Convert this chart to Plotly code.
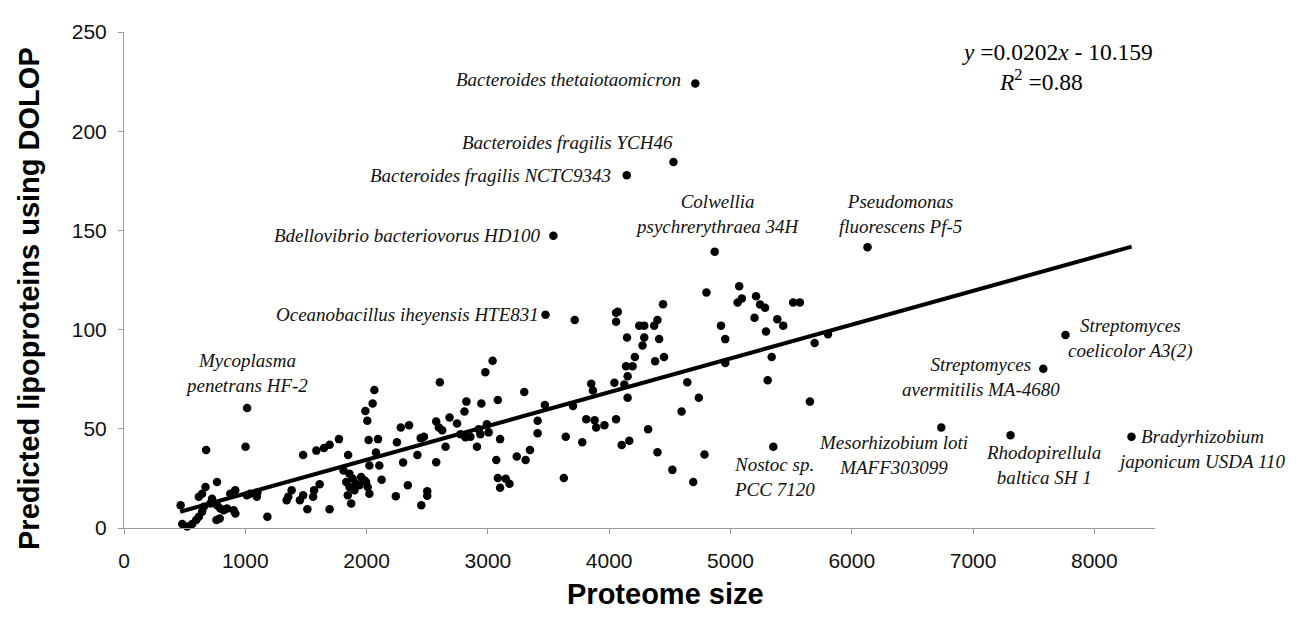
import plotly.graph_objects as go

# ---- data ----
proteome_size = [
    467, 480, 521, 562, 595, 617, 644, 658, 617, 644, 672, 712, 726, 767, 762, 789, 767, 794, 822, 849,
    876, 917, 904, 918, 1013, 1040, 1095, 1100, 1182, 677, 1002, 1341, 1354, 1382, 1450, 1477, 1559, 1567,
    1613, 1512, 1695, 1477, 1586, 1649, 1695, 1772, 1848, 1810, 1859, 1886, 1832, 1914, 1955, 1982, 2009,
    1859, 1900, 1845, 1941, 1996, 1873, 2023, 2124, 2023, 2105, 2077, 2017, 2094, 2006, 1990, 2050, 2064,
    2250, 2282, 2350, 2301, 2241, 2340, 2446, 2473, 2419, 2500, 2500, 2451,
    2574, 2574, 2596, 2623, 2604, 2651, 2684, 2746, 2807, 2823, 2774, 2815, 2856, 2910, 2924, 2938, 2946,
    2992, 3006, 2979, 3039, 3082, 3101, 3069, 3082, 3147, 3178, 3101, 3300, 3238, 3311, 3347, 3410, 3410,
    3470, 3626, 3642, 3702, 3778, 3811, 3880, 3893, 3961, 4057, 3852, 3866, 4043, 4125, 4152, 4152, 4103,
    4166, 4321, 4398, 4139, 4193, 4212, 4452, 4379, 4147, 4289, 4275, 4412, 3716, 4057, 4071, 4057, 4444,
    4248, 4289, 4371, 4398, 4644, 4739, 4597, 4802, 5072, 5094, 5059, 5211, 5244, 5285, 5198, 5386, 5435,
    5293, 4922, 4957, 4957, 5340, 5307, 5517, 5572, 5804, 5694, 5655, 4521, 4693, 4786,
]
lipoproteins = [
    11.5, 2, 0.7, 2, 4, 5.7, 8.2, 10.7, 15.7, 17.3, 20.7, 12.3, 14.8, 23.2, 4, 4.8, 11.5, 9.8, 9, 9.8,
    17.3, 19, 9, 7.3, 16.5, 17.3, 15.7, 18, 5.7, 39.3, 41, 14, 15.7, 19, 14, 16.5, 15.7, 19,
    22, 9.5, 9.5, 36.8, 39, 40.3, 42, 44.8, 36.8, 29, 27.3, 24.8, 23.2, 22.3, 25.7, 24, 20.7,
    20.7, 19, 16.5, 21.5, 23.2, 12.3, 17.3, 24.3, 31.5, 31.5, 38, 44.3, 44.8, 54, 59, 62.8, 69.5,
    43.2, 50.7, 51.8, 33, 16, 21.5, 45.3, 46, 36.8, 18.5, 16.2, 11.5,
    33.2, 53.7, 50.7, 49.3, 73.5, 41, 55.7, 52.7, 58.7, 63.7, 47.3, 45.7, 46, 41, 49.8, 47.3, 62.7,
    52.3, 48.2, 78.5, 84.3, 64.5, 44.8, 34.3, 25.2, 24.8, 22.3, 20.3, 68.5, 36, 34.3, 39.3, 47.8, 54,
    62, 25.2, 46, 61.5, 43.2, 54.8, 54.3, 50.7, 51.8, 54.8, 72.7, 69.3, 73.2, 72.3, 76.5, 65.7, 41.8,
    44, 49.8, 38.2, 81.5, 81.5, 86.2, 86.2, 84, 96, 96, 92, 95.3, 104.8, 108.5, 109, 104, 112.8,
    102, 102, 102, 104.8, 73.5, 65.7, 58.7, 118.7, 121.8, 115.7, 113.7, 116.8, 112.7, 111, 106, 105.2, 102,
    99, 102, 95.2, 83.2, 86.2, 74.5, 113.7, 113.7, 97.7, 93.2, 63.7, 29.3, 23.2, 37,
]

# named organisms
organism_names = [
    "Bacteroides thetaiotaomicron", "Bacteroides fragilis YCH46", "Bacteroides fragilis NCTC9343",
    "Bdellovibrio bacteriovorus HD100", "Colwellia<br>psychrerythraea 34H", "Oceanobacillus iheyensis HTE831",
    "Mycoplasma<br>penetrans HF-2", "Pseudomonas<br>fluorescens Pf-5", "Streptomyces<br>coelicolor A3(2)",
    "Streptomyces<br>avermitilis MA-4680", "Mesorhizobium loti<br>MAFF303099", "Rhodopirellula<br>baltica SH 1",
    "Bradyrhizobium<br>japonicum USDA 110", "Nostoc sp.<br>PCC 7120",
]
organism_size = [4710, 4530, 4145, 3540, 4870, 3475, 1015, 6130, 7762, 7579, 6738, 7309, 8306, 5353]
organism_lipo = [224, 184.5, 177.8, 147.3, 139.3, 107.5, 60.5, 141.5, 97.3, 80.3, 50.7, 46.8, 46, 41]

# fitted trend line as drawn (end points)
trend_x = [463, 8307]
trend_y = [8.2, 141.8]

x_ticks = [0, 1000, 2000, 3000, 4000, 5000, 6000, 7000, 8000]
y_ticks = [0, 50, 100, 150, 200, 250]

# ---- label placement (layout only): xanchor, xshift px, yshift px ----
label_place = [
    ("right", -12, 4), ("right", 2, 19), ("right", -14, 0), ("right", -11, 0),
    ("center", 3, 38), ("right", -5, 0), ("center", -1, 35), ("center", 33, 33),
    ("center", 65, -4), ("center", -62, -8), ("center", -48, -28), ("center", 33, -30),
    ("center", 70, -12), ("left", -41, -30),
]

fig = go.Figure()
fig.add_trace(go.Scatter(x=trend_x, y=trend_y, mode="lines",
                         line=dict(color="black", width=4), hoverinfo="skip", showlegend=False))
fig.add_trace(go.Scatter(x=proteome_size + organism_size, y=lipoproteins + organism_lipo, mode="markers",
                         marker=dict(color="black", size=8.5), showlegend=False, cliponaxis=False))

serif = "Liberation Serif, Times New Roman, serif"
sans = "Liberation Sans, Arial, sans-serif"
annotations = []
for name, xs, ys, (anc, dx, dy) in zip(organism_names, organism_size, organism_lipo, label_place):
    annotations.append(dict(x=xs, y=ys, xref="x", yref="y", text="<i>" + name + "</i>", showarrow=False,
                            xanchor=anc, yanchor="middle", align=anc,
                            xshift=dx, yshift=dy, font=dict(family=serif, size=19, color="#111")))

annotations.append(dict(x=0.905, y=0.96, xref="paper", yref="paper", showarrow=False,
                        text="<i>y</i> =0.0202<i>x</i> - 10.159", xanchor="center", yanchor="middle",
                        font=dict(family=serif, size=23.5, color="black")))
annotations.append(dict(x=0.889, y=0.904, xref="paper", yref="paper", showarrow=False,
                        text="<i>R</i><sup>2</sup> =0.88", xanchor="center", yanchor="middle",
                        font=dict(family=serif, size=23.5, color="black")))
# axis titles
annotations.append(dict(x=0.525, y=-0.134, xref="paper", yref="paper", showarrow=False,
                        text="<b>Proteome size</b>", xanchor="center", yanchor="middle",
                        font=dict(family=sans, size=29, color="black")))
annotations.append(dict(x=-0.092, y=0.462, xref="paper", yref="paper", showarrow=False,
                        text="<b>Predicted lipoproteins using DOLOP</b>", textangle=-90,
                        xanchor="center", yanchor="middle",
                        font=dict(family=sans, size=29, color="black")))

axis_font = dict(family=sans, size=21, color="#111")
fig.update_layout(
    width=1281, height=607,
    margin=dict(l=116, r=134, t=20, b=87),
    paper_bgcolor="white", plot_bgcolor="white",
    annotations=annotations,
    xaxis=dict(range=[0, 8500], tickvals=x_ticks, ticktext=[str(v) for v in x_ticks],
               showline=True, linecolor="#999", linewidth=1, ticks="outside", ticklen=5, tickcolor="#999",
               ticklabelstandoff=9,
               showgrid=False, zeroline=False, tickfont=axis_font),
    yaxis=dict(range=[0, 250], tickvals=y_ticks, ticktext=[str(v) for v in y_ticks],
               showline=True, linecolor="#999", linewidth=1, ticks="outside", ticklen=5, tickcolor="#999",
               ticklabelstandoff=7,
               showgrid=False, zeroline=False, tickfont=axis_font),
)

fig.write_html("out.html")
